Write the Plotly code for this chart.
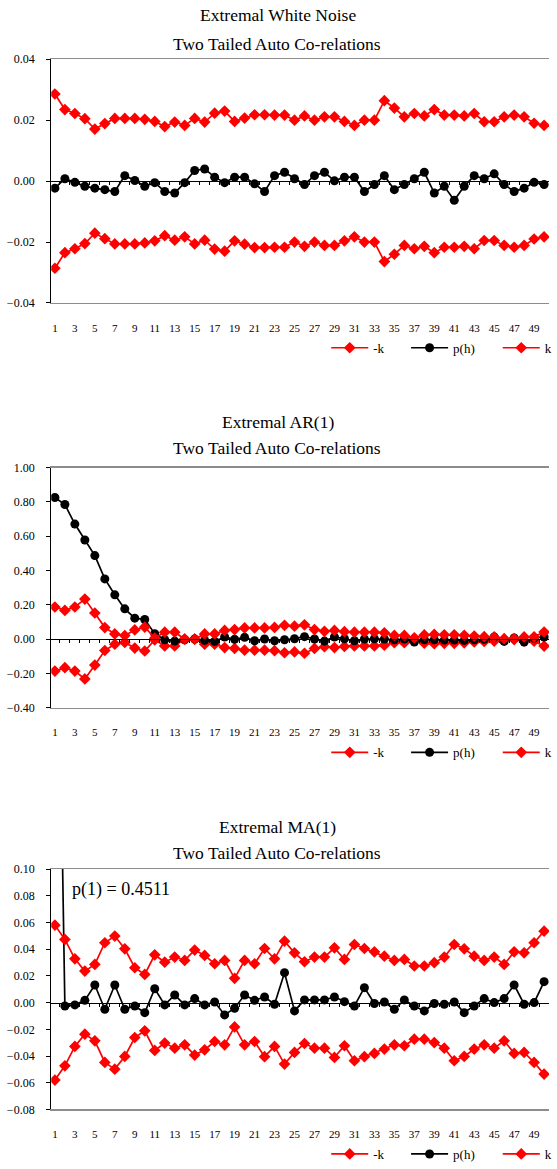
import plotly.graph_objects as go

W, H = 557, 1169

lags = list(range(1, 51))
x_ticks = list(range(1, 50, 2))

wn_k = [0.0286, 0.0235, 0.0222, 0.0205, 0.0171, 0.0189, 0.0206, 0.0206, 0.0206, 0.0203,
        0.0196, 0.0179, 0.0194, 0.0183, 0.0206, 0.0194, 0.0223, 0.0230, 0.0196, 0.0207,
        0.0218, 0.0218, 0.0217, 0.0217, 0.0200, 0.0214, 0.0200, 0.0211, 0.0211, 0.0196,
        0.0183, 0.0200, 0.0200, 0.0264, 0.0240, 0.0211, 0.0222, 0.0214, 0.0235, 0.0217,
        0.0217, 0.0214, 0.0222, 0.0195, 0.0195, 0.0211, 0.0217, 0.0211, 0.0190, 0.0183]
wn_p = [-0.0023, 0.0008, -0.0004, -0.0017, -0.0023, -0.0028, -0.0034, 0.0018, 0.0002, -0.0017,
        -0.0005, -0.0034, -0.0039, -0.0005, 0.0035, 0.0040, 0.0013, -0.0005, 0.0013, 0.0013,
        -0.0009, -0.0034, 0.0018, 0.0029, 0.0008, -0.0011, 0.0018, 0.0029, 0.0001, 0.0013,
        0.0013, -0.0034, -0.0011, 0.0018, -0.0028, -0.0011, 0.0008, 0.0029, -0.0039, -0.0017,
        -0.0063, -0.0017, 0.0018, 0.0008, 0.0024, -0.0011, -0.0034, -0.0023, -0.0004, -0.0011]

ar_k = [0.187, 0.167, 0.187, 0.233, 0.152, 0.067, 0.030, 0.020, 0.053, 0.070,
        0.005, 0.040, 0.040, 0.000, 0.000, 0.030, 0.030, 0.050, 0.055, 0.065,
        0.065, 0.065, 0.068, 0.080, 0.075, 0.083, 0.055, 0.045, 0.050, 0.043,
        0.040, 0.040, 0.040, 0.036, 0.021, 0.021, 0.007, 0.024, 0.027, 0.025,
        0.025, 0.022, 0.017, 0.014, 0.012, 0.002, 0.003, 0.012, 0.013, 0.041]
ar_p = [0.826, 0.785, 0.671, 0.578, 0.487, 0.351, 0.258, 0.176, 0.122, 0.114,
        0.031, -0.004, -0.012, -0.004, 0.000, -0.008, -0.014, 0.012, -0.002, 0.010,
        -0.010, 0.000, -0.010, -0.004, 0.002, 0.014, 0.000, -0.012, 0.012, 0.002,
        -0.010, 0.000, 0.002, 0.000, -0.004, 0.000, -0.017, -0.004, -0.004, -0.006,
        -0.006, -0.008, -0.004, -0.002, 0.012, -0.014, 0.006, -0.017, 0.006, 0.012]

ma_k = [0.0580, 0.0473, 0.0328, 0.0236, 0.0286, 0.0448, 0.0498, 0.0403, 0.0261, 0.0211,
        0.0358, 0.0303, 0.0341, 0.0316, 0.0393, 0.0353, 0.0291, 0.0316, 0.0182, 0.0316,
        0.0291, 0.0405, 0.0328, 0.0460, 0.0373, 0.0306, 0.0341, 0.0341, 0.0410, 0.0323,
        0.0435, 0.0405, 0.0380, 0.0348, 0.0316, 0.0323, 0.0274, 0.0274, 0.0299, 0.0341,
        0.0435, 0.0403, 0.0348, 0.0316, 0.0341, 0.0286, 0.0380, 0.0373, 0.0448, 0.0535]
ma_p = [0.4511, -0.0025, -0.0017, 0.0017, 0.0132, -0.0050, 0.0132, -0.0050, -0.0025, -0.0075,
        0.0104, -0.0017, 0.0057, -0.0017, 0.0030, -0.0017, 0.0005, -0.0092, -0.0042, 0.0057,
        0.0017, 0.0042, -0.0012, 0.0224, -0.0062, 0.0020, 0.0020, 0.0020, 0.0042, 0.0007,
        -0.0025, 0.0112, -0.0007, 0.0005, -0.0050, 0.0020, -0.0025, -0.0062, -0.0007, -0.0012,
        0.0005, -0.0075, -0.0025, 0.0030, 0.0000, 0.0030, 0.0132, -0.0012, 0.0000, 0.0157]

titles = ["Extremal White Noise", "Extremal AR(1)", "Extremal MA(1)"]
subtitle = "Two Tailed Auto Co-relations"
legend_names = ["-k", "p(h)", "k"]
ma_note = "p(1) = 0.4511"

FONT = "Liberation Serif, Times New Roman, serif"
RED = "#FF0000"
BLACK = "#000000"


def fx(page_x):
    return page_x / W


def fy(page_y):
    return 1 - page_y / H


panels = [
    dict(k=wn_k, p=wn_p, yr=[-0.04, 0.04], dt=0.02, top=59.5, bot=304.0,
         t1=15, t2=44, leg=349),
    dict(k=ar_k, p=ar_p, yr=[-0.4, 1.0], dt=0.2, top=469.3, bot=710.0,
         t1=423, t2=450, leg=755),
    dict(k=ma_k, p=ma_p, yr=[-0.08, 0.10], dt=0.02, top=872.0, bot=1113.3,
         t1=830, t2=856, leg=1158),
]
legend_left = [331, 412, 505]

fig = go.Figure()
layout = dict(
    width=W, height=H, margin=dict(l=0, r=0, t=0, b=0),
    paper_bgcolor="white", plot_bgcolor="white",
    font=dict(family=FONT, color="black"),
    annotations=[],
)

x_range = [0.635, 50.49]
x_dom = [fx(52), 1.0]

for i, pn in enumerate(panels):
    n = i + 1
    xa = "x" if n == 1 else f"x{n}"
    ya = "y" if n == 1 else f"y{n}"
    xo = f"x{n + 3}"
    neg_k = [-v for v in pn["k"]]
    series = [
        (legend_names[0], neg_k, RED, "diamond", 9),
        (legend_names[1], pn["p"], BLACK, "circle", 9),
        (legend_names[2], pn["k"], RED, "diamond", 9),
    ]
    for j, (name, vals, col, sym, sz) in enumerate(series):
        li = i * 3 + j + 1
        leg = "legend" if li == 1 else f"legend{li}"
        fig.add_trace(go.Scatter(
            x=lags, y=vals, name=name, mode="lines+markers",
            line=dict(color=col, width=1.7),
            marker=dict(color=col, symbol=sym, size=sz),
            xaxis=xa, yaxis=ya, legend=leg, showlegend=True,
        ))
        layout[leg] = dict(
            orientation="h", x=fx(legend_left[j]), xanchor="left",
            y=fy(pn["leg"]), yanchor="middle",
            font=dict(family=FONT, size=13), bgcolor="rgba(0,0,0,0)",
            itemwidth=37, borderwidth=0,
            itemclick=False, itemdoubleclick=False,
        )
    # dummy trace for the zero-crossing axis
    fig.add_trace(go.Scatter(x=[None], y=[None], xaxis=xo, yaxis=ya,
                             showlegend=False, hoverinfo="skip"))

    d0, d1 = fy(pn["bot"]), fy(pn["top"])
    ymin, ymax = pn["yr"]
    zero_pos = d0 + (0 - ymin) / (ymax - ymin) * (d1 - d0)

    axkey = "xaxis" if n == 1 else f"xaxis{n}"
    aykey = "yaxis" if n == 1 else f"yaxis{n}"
    layout[axkey] = dict(
        domain=x_dom, anchor=ya, range=x_range,
        tickmode="array", tickvals=x_ticks, ticktext=[str(v) for v in x_ticks],
        showline=True, linecolor="#8c8c8c", linewidth=1.5, mirror=True,
        ticks="", showgrid=False, zeroline=False,
        tickfont=dict(family=FONT, size=11),
        ticklabelstandoff=14, automargin=False, fixedrange=True,
    )
    layout[f"xaxis{n + 3}"] = dict(
        overlaying=xa, anchor="free", position=zero_pos, range=x_range,
        domain=x_dom,
        showline=True, linecolor="black", linewidth=1,
        tickmode="array", tickvals=[v + 0.5 for v in range(0, 51)],
        ticks="outside", ticklen=3, tickcolor="black", tickwidth=1,
        showticklabels=False, showgrid=False, zeroline=False,
        automargin=False, fixedrange=True,
    )
    layout[aykey] = dict(
        domain=[d0, d1], anchor=xa, range=pn["yr"],
        tick0=ymin, dtick=pn["dt"], tickformat=".2f",
        showline=True, linecolor="black", linewidth=1.2,
        ticks="outside", ticklen=4, tickcolor="black",
        showgrid=False, zeroline=False,
        tickfont=dict(family=FONT, size=12),
        ticklabelstandoff=9, automargin=False, fixedrange=True,
    )
    layout["annotations"].append(dict(
        text=titles[i], xref="paper", yref="paper", x=fx(282), y=fy(pn["t1"]),
        xanchor="center", yanchor="middle", showarrow=False, borderpad=0,
        font=dict(family=FONT, size=17.5)))
    layout["annotations"].append(dict(
        text=subtitle, xref="paper", yref="paper", x=fx(281), y=fy(pn["t2"]),
        xanchor="center", yanchor="middle", showarrow=False, borderpad=0,
        font=dict(family=FONT, size=17.5)))

layout["annotations"].append(dict(
    text=ma_note, xref="paper", yref="paper", x=fx(71), y=fy(893),
    xanchor="left", yanchor="middle", showarrow=False,
    font=dict(family=FONT, size=18)))

fig.update_layout(**layout)
fig.write_html(
    "out.html",
    config={"displayModeBar": False, "staticPlot": True},
    post_script="document.body.style.margin='0';document.body.style.overflow='hidden';",
)
